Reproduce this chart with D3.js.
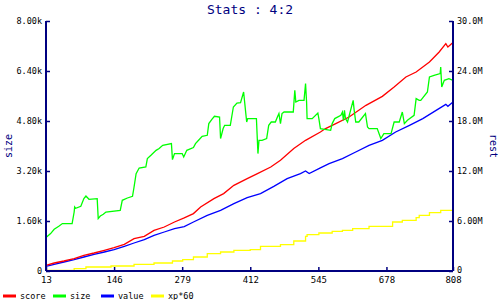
<!DOCTYPE html>
<html>
<head>
<meta charset="utf-8">
<script src="https://cdn.jsdelivr.net/npm/d3@7"></script>
<style>
  body { margin: 0; background: #fff; }
  svg { display: block; font-family: "DejaVu Sans Mono", monospace; }
</style>
</head>
<body>
<script>
// x ticks shown on the bottom axis
var xTicks = [13, 146, 279, 412, 545, 678, 808];
var sizeTicks = [0, 1600, 3200, 4800, 6400, 8000];
var sizeLabels = ["0", "1.60k", "3.20k", "4.80k", "6.40k", "8.00k"];
var restTicks = [0, 6, 12, 18, 24, 30];
var restLabels = ["0", "6.00M", "12.0M", "18.0M", "24.0M", "30.0M"];

// size (left axis), [x, size]
var sizePts = [[13,1069],[22,1197],[29,1334],[38,1430],[45,1517],[64,1517],[68,1888],[69,2048],[71,2006],
  [81,2070],[87,2317],[91,2400],[97,2294],[113,2317],[115,1677],[119,1760],[125,1814],[130,1888],[158,1942],
  [162,2262],[172,2336],[182,2390],[185,2688],[189,3117],[195,3296],[208,3328],[211,3597],[218,3702],
  [228,3862],[234,3917],[241,4022],[258,4077],[260,3565],[264,3757],[279,3757],[282,3648],[288,3862],
  [301,3949],[305,4077],[311,4182],[318,4310],[328,4342],[331,4717],[337,4854],[342,4950],[352,4928],
  [354,4237],[359,4557],[362,4662],[373,4662],[379,5248],[386,5376],[393,5389],[399,5728],[405,4768],
  [407,4877],[424,4877],[427,3757],[429,4182],[435,4182],[444,4237],[448,4662],[453,4768],[461,4768],
  [465,4928],[468,5037],[471,4717],[474,5037],[478,5088],[496,5088],[499,5782],[501,5408],[507,5462],
  [517,5462],[520,5997],[522,5408],[523,4877],[533,4877],[544,5056],[546,4877],[549,4557],[569,4502],
  [572,4717],[577,4877],[589,4982],[592,5088],[594,4822],[596,5142],[598,4877],[602,4768],[613,5462],
  [615,5142],[618,4768],[624,4768],[637,5037],[641,4608],[644,4557],[660,4557],[667,4237],[673,4397],
  [687,4397],[693,4768],[703,4768],[709,5088],[713,4717],[719,4822],[732,4982],[736,5517],[742,5462],
  [745,5462],[758,5728],[762,6208],[771,6262],[783,6317],[784,6528],[786,5888],[791,6102],[800,6157],[808,6102]];

// score (right axis, millions)
var scorePts = [[13,0.68],[29,0.96],[48,1.2],[68,1.49],[87,1.88],[107,2.16],[127,2.48],[146,2.81],[166,3.2],
  [185,3.89],[205,4.16],[224,4.88],[244,5.28],[264,5.88],[283,6.38],[301,6.89],[315,7.68],[341,8.69],
  [360,9.29],[380,10.28],[406,11.09],[426,11.69],[452,12.48],[471,13.28],[497,14.69],[520,15.68],
  [549,16.68],[559,17.09],[579,17.69],[605,18.48],[638,19.88],[670,20.96],[693,22.08],[716,23.28],
  [736,23.88],[762,25.08],[781,26.28],[794,27.29],[798,26.88],[808,27.41]];

// value (right axis, millions)
var valuePts = [[13,0.56],[29,0.8],[48,1.08],[68,1.37],[87,1.68],[107,2.0],[127,2.28],[146,2.57],[166,2.96],
  [185,3.36],[205,3.77],[224,4.28],[244,4.68],[264,5.09],[283,5.33],[301,5.88],[328,6.68],[354,7.28],
  [380,8.09],[406,8.81],[432,9.29],[458,10.16],[484,11.09],[510,11.69],[520,12.0],[527,11.69],[549,12.38],
  [566,12.89],[592,13.49],[618,14.28],[644,15.08],[670,15.68],[696,16.68],[723,17.48],[749,18.29],
  [775,19.28],[794,20.0],[798,19.76],[808,20.28]];

// xp*60 (right axis, millions)
var xpPts = [[13,0.08],[68,0.29],[91,0.48],[140,0.6],[185,0.8],[224,0.96],[260,1.2],[280,1.37],[301,1.68],
  [328,2.09],[354,2.28],[380,2.48],[412,2.57],[432,2.96],[471,3.17],[497,3.6],[520,4.16],[523,4.37],
  [546,4.56],[572,4.76],[592,4.88],[612,5.09],[644,5.36],[690,5.88],[709,6.08],[736,6.41],[742,6.68],
  [762,7.01],[784,7.28],[808,7.4]];

var navy = "#000080";
var W = 500, H = 300;
var padL = 46, padR = 453, padT = 21, padB = 271;

var svg = d3.select("body").append("svg")
  .attr("width", W)
  .attr("height", H);

var x = d3.scaleLinear().domain([13, 808]).range([padL, padR]);
var ySize = d3.scaleLinear().domain([0, 8000]).range([padB, padT]);
var yRest = d3.scaleLinear().domain([0, 30]).range([padB, padT]);

// series
var series = [
  {pts: xpPts, y: yRest, color: "#ffff00", curve: d3.curveStepAfter},
  {pts: valuePts, y: yRest, color: "#0000ff", curve: d3.curveLinear},
  {pts: scorePts, y: yRest, color: "#ff0000", curve: d3.curveLinear},
  {pts: sizePts, y: ySize, color: "#00ff00", curve: d3.curveLinear}
];

series.forEach(function (s) {
  var line = d3.line()
    .x(d => x(d[0]))
    .y(d => s.y(d[1]))
    .curve(s.curve);
  svg.append("path")
    .datum(s.pts)
    .attr("fill", "none")
    .attr("stroke", s.color)
    .attr("stroke-width", 1.3)
    .attr("d", line);
});

// axes
var xAxis = d3.axisBottom(x).tickValues(xTicks).tickSize(-4).tickPadding(6);
var gx = svg.append("g").attr("transform", "translate(0," + padB + ")").call(xAxis);

var lAxis = d3.axisLeft(ySize).tickValues(sizeTicks)
  .tickFormat((d, i) => sizeLabels[i]).tickSize(-4).tickPadding(4);
var gl = svg.append("g").attr("transform", "translate(" + padL + ",0)").call(lAxis);

var rAxis = d3.axisRight(yRest).tickValues(restTicks)
  .tickFormat((d, i) => restLabels[i]).tickSize(-4).tickPadding(4);
var gr = svg.append("g").attr("transform", "translate(" + padR + ",0)").call(rAxis);

[gx, gl, gr].forEach(function (g) {
  g.select(".domain").attr("stroke", navy).attr("stroke-width", 2);
  g.selectAll(".tick line").attr("stroke", navy).attr("stroke-width", 1.5);
  g.selectAll("text").attr("fill", "#000").style("font-size", "8.5px")
    .style("font-family", "'DejaVu Sans Mono', monospace");
});
gx.selectAll("text").style("font-size", "9px");
gx.select(".domain").attr("d", "M" + padL + ",0H" + padR);
gl.select(".domain").attr("d", "M0," + padB + "V" + padT);
gr.select(".domain").attr("d", "M0," + padB + "V" + padT);
// tick lines point inward on both sides
gl.selectAll(".tick line").attr("x2", 4);
gr.selectAll(".tick line").attr("x2", -4);
// zero label on the right sits a touch higher, clear of "808"
gr.selectAll(".tick text").filter(d => d === 0).attr("y", -1.5);

// title
svg.append("text")
  .attr("x", 250).attr("y", 13.5)
  .attr("text-anchor", "middle")
  .attr("fill", navy)
  .style("font-size", "13px")
  .text("Stats : 4:2");

// axis titles
svg.append("text")
  .attr("transform", "translate(12," + (padT + padB) / 2 + ") rotate(-90)")
  .attr("text-anchor", "middle")
  .attr("fill", navy)
  .style("font-size", "10px")
  .text("size");

svg.append("text")
  .attr("transform", "translate(490," + (padT + padB) / 2 + ") rotate(90)")
  .attr("text-anchor", "middle")
  .attr("fill", navy)
  .style("font-size", "10px")
  .text("rest");

// legend
var legend = [
  {name: "score", color: "#ff0000", x: 3},
  {name: "size", color: "#00ff00", x: 53},
  {name: "value", color: "#0000ff", x: 101},
  {name: "xp*60", color: "#ffff00", x: 151}
];
var lg = svg.append("g").selectAll("g").data(legend).enter().append("g");
lg.append("line")
  .attr("x1", d => d.x).attr("x2", d => d.x + 13)
  .attr("y1", 296).attr("y2", 296)
  .attr("stroke", d => d.color).attr("stroke-width", 3);
lg.append("text")
  .attr("x", d => d.x + 17).attr("y", 298.5)
  .attr("fill", "#000")
  .style("font-size", "8.5px")
  .text(d => d.name);
</script>
</body>
</html>
